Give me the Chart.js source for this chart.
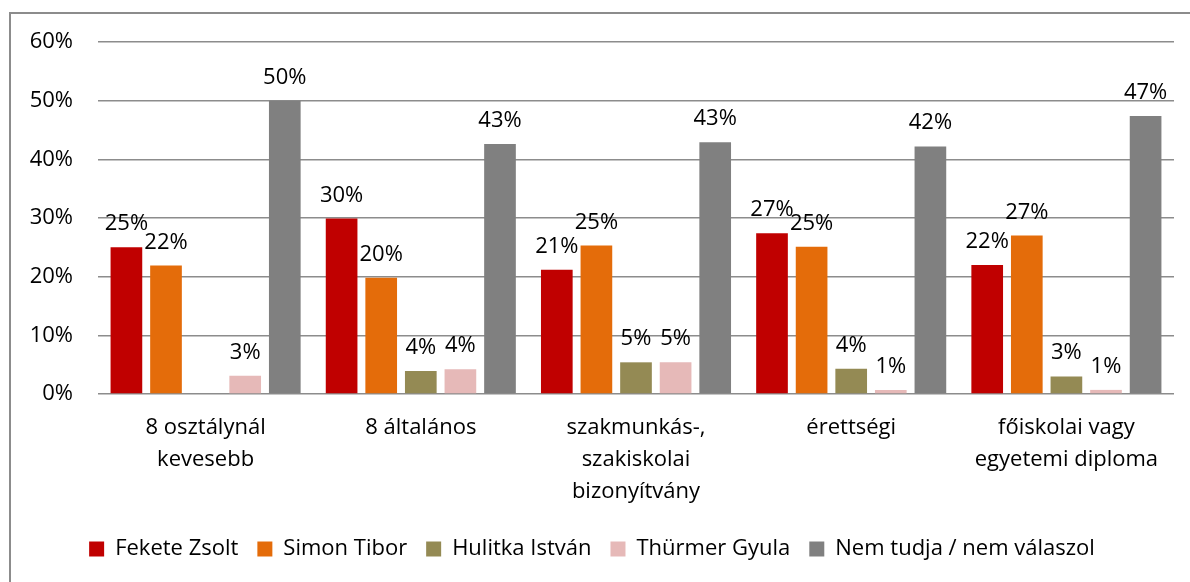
<!DOCTYPE html>
<html>
<head>
<meta charset="utf-8">
<script src="https://cdn.jsdelivr.net/npm/chart.js@4/dist/chart.umd.min.js"></script>
<style>
  html, body { margin: 0; padding: 0; background: #fff; }
  #wrap { width: 1190px; height: 582px; }
</style>
</head>
<body>
<div id="wrap"><canvas id="chart" width="1190" height="582"></canvas></div>
<script>
const categories = [
    ['8 osztálynál', 'kevesebb'],
    '8 általános',
    ['szakmunkás-,', 'szakiskolai', 'bizonyítvány'],
    'érettségi',
    ['főiskolai vagy', 'egyetemi diploma']
];
const feketeZsolt = [25.0, 29.9, 21.2, 27.4, 22.0];
const simonTibor = [21.9, 19.8, 25.3, 25.1, 27.0];
const hulitkaIstvan = [0, 3.9, 5.4, 4.3, 3.0];
const thurmerGyula = [3.1, 4.2, 5.4, 0.7, 0.7];
const nemTudja = [50.0, 42.6, 42.9, 42.2, 47.4];
const yTicks = [0, 10, 20, 30, 40, 50, 60];

const FONT = 'Open Sans';
const FS = 22;
const gridGray = '#8c8c8c';

// frame around the whole chart (right and bottom edges fall outside the picture)
const framePlugin = {
    id: 'frame',
    beforeDraw(chart) {
        const ctx = chart.ctx;
        ctx.save();
        ctx.strokeStyle = gridGray;
        ctx.lineWidth = 2;
        ctx.strokeRect(10, 13, 1200, 600);
        ctx.restore();
    }
};

// value labels above the bars
const valueLabels = {
    id: 'valueLabels',
    afterDatasetsDraw(chart) {
        const ctx = chart.ctx;
        ctx.save();
        ctx.font = FS + 'px "' + FONT + '"';
        ctx.fillStyle = '#000';
        ctx.textAlign = 'center';
        ctx.textBaseline = 'alphabetic';
        chart.data.datasets.forEach((ds, i) => {
            chart.getDatasetMeta(i).data.forEach((bar, j) => {
                const v = ds.data[j];
                if (!v) return;
                ctx.fillText(Math.round(v) + '%', bar.x, bar.y - 17);
            });
        });
        ctx.restore();
    }
};

new Chart(document.getElementById('chart'), {
    type: 'bar',
    data: {
        labels: categories,
        datasets: [
            { label: 'Fekete Zsolt', data: feketeZsolt, backgroundColor: '#c00000' },
            { label: 'Simon Tibor', data: simonTibor, backgroundColor: '#e46c0a' },
            { label: 'Hulitka István', data: hulitkaIstvan, backgroundColor: '#948a54' },
            { label: 'Thürmer Gyula', data: thurmerGyula, backgroundColor: '#e6b9b8' },
            { label: 'Nem tudja / nem válaszol', data: nemTudja, backgroundColor: '#808080' }
        ]
    },
    options: {
        responsive: false,
        animation: false,
        devicePixelRatio: 1,
        categoryPercentage: 0.92,
        barPercentage: 0.8,
        layout: { padding: { left: 10, right: 16, top: 42, bottom: 12 } },
        plugins: {
            legend: {
                position: 'bottom',
                labels: {
                    boxWidth: 15,
                    boxHeight: 15,
                    padding: 19,
                    color: '#000',
                    font: { family: FONT, size: FS }
                }
            },
            tooltip: { enabled: false }
        },
        scales: {
            x: {
                grid: { display: false },
                border: { display: false },
                ticks: {
                    color: '#000',
                    padding: 10,
                    maxRotation: 0,
                    autoSkip: false,
                    font: { family: FONT, size: FS, lineHeight: 1.45 }
                },
                afterFit(scale) { scale.height = 125; }
            },
            y: {
                min: 0,
                max: 60,
                afterBuildTicks(scale) { scale.ticks = yTicks.map(v => ({ value: v })); },
                grid: { color: gridGray, lineWidth: 1.5, drawTicks: false },
                border: { display: false },
                ticks: {
                    color: '#000',
                    padding: 25,
                    font: { family: FONT, size: FS },
                    callback: v => v + '%'
                },
                afterFit(scale) { scale.width = 88; }
            }
        }
    },
    plugins: [framePlugin, valueLabels]
});
</script>
</body>
</html>
